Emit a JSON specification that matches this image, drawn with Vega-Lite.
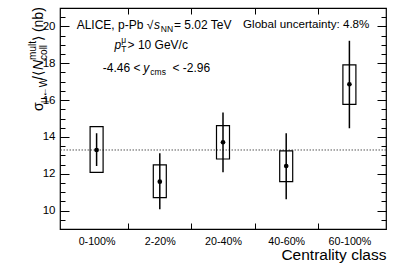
{
  "$schema": "https://vega.github.io/schema/vega-lite/v6.json",
  "width": 326,
  "height": 221,
  "autosize": "none",
  "padding": {"left": 60, "top": 8, "right": 13, "bottom": 42},
  "config": {
    "font": "Liberation Sans",
    "view": {"stroke": "black", "strokeWidth": 1.2},
    "axis": {"grid": false, "domain": false, "tickColor": "black", "labelColor": "black", "titleColor": "black", "tickWidth": 1, "labelFont": "Liberation Sans", "titleFont": "Liberation Sans", "titleFontWeight": "normal"}
  },
  "datasets": {
    "pts": [
      {"cls": "0-100%", "pos": 0.5, "val": 13.29, "stat_lo": 12.42, "stat_hi": 14.20, "sys_lo": 12.08, "sys_hi": 14.56},
      {"cls": "2-20%", "pos": 1.5, "val": 11.57, "stat_lo": 10.07, "stat_hi": 13.11, "sys_lo": 10.70, "sys_hi": 12.48},
      {"cls": "20-40%", "pos": 2.5, "val": 13.71, "stat_lo": 12.08, "stat_hi": 15.32, "sys_lo": 12.80, "sys_hi": 14.61},
      {"cls": "40-60%", "pos": 3.5, "val": 12.42, "stat_lo": 10.61, "stat_hi": 14.20, "sys_lo": 11.57, "sys_hi": 13.24},
      {"cls": "60-100%", "pos": 4.5, "val": 16.86, "stat_lo": 14.47, "stat_hi": 19.22, "sys_lo": 15.77, "sys_hi": 17.91}
    ],
    "mean": [{"avg": 13.29}],
    "txt_main": [
      {"tx": 0.184, "ty": 20.08, "t": "ALICE, p-Pb √"},
      {"tx": 1.725, "ty": 20.08, "t": "= 5.02 TeV"},
      {"tx": 0.99, "ty": 18.99, "t": "> 10 GeV/c"},
      {"tx": 0.598, "ty": 17.74, "t": "-4.46 <"},
      {"tx": 1.70, "ty": 17.74, "t": "< -2.96"}
    ],
    "txt_it": [
      {"tx": 1.41, "ty": 20.08, "t": "s"},
      {"tx": 0.782, "ty": 18.99, "t": "p"},
      {"tx": 1.239, "ty": 17.74, "t": "y"}
    ],
    "txt_sub": [
      {"tx": 1.515, "ty": 20.08, "t": "NN"},
      {"tx": 0.89, "ty": 18.99, "t": "T"},
      {"tx": 1.35, "ty": 17.74, "t": "cms"}
    ],
    "txt_sup": [
      {"tx": 0.89, "ty": 18.99, "t": "μ"}
    ],
    "txt_right": [
      {"tx": 4.816, "ty": 20.08, "t": "Global uncertainty: 4.8%"}
    ],
    "yt_main": [
      {"tx": -0.345, "ty": 15.41, "t": "σ"},
      {"tx": -0.345, "ty": 17.09, "t": "/⟨"},
      {"tx": -0.345, "ty": 19.21, "t": "⟩ (nb)"}
    ],
    "yt_it": [
      {"tx": -0.345, "ty": 17.63, "t": "N"}
    ],
    "yt_sub": [
      {"tx": -0.283, "ty": 15.84, "t": "μ←W"},
      {"tx": -0.283, "ty": 18.18, "t": "coll"}
    ],
    "yt_sup": [
      {"tx": -0.452, "ty": 18.18, "t": "mult"}
    ]
  },
  "resolve": {"axis": {"x": "independent", "y": "independent"}},
  "layer": [
    {
      "data": {"name": "mean"},
      "mark": {"type": "rule", "stroke": "#555555", "strokeWidth": 1, "strokeDash": [1.5, 1.5]},
      "encoding": {
        "y": {"field": "avg", "type": "quantitative", "scale": {"domain": [9, 21], "nice": false, "zero": false},
          "axis": {"orient": "left", "values": [10, 12, 14, 16, 18, 20], "tickSize": -9, "labelPadding": 14, "labelFontSize": 11.5, "title": null}}
      }
    },
    {
      "data": {"name": "pts"},
      "mark": {"type": "bar", "size": 13, "fillOpacity": 0, "stroke": "black", "strokeWidth": 1.2},
      "encoding": {
        "x": {"field": "pos", "type": "quantitative", "scale": {"domain": [0, 5], "nice": false, "zero": false},
          "axis": {"orient": "bottom", "values": [0.5, 1.5, 2.5, 3.5, 4.5], "ticks": false, "labelPadding": 7, "labelFontSize": 10.7,
            "labelExpr": "['0-100%','2-20%','20-40%','40-60%','60-100%'][floor(datum.value)]",
            "title": "Centrality class", "titleAnchor": "end", "titleAlign": "right", "titleFontSize": 15.5, "titlePadding": 2}},
        "y": {"field": "sys_lo", "type": "quantitative", "scale": {"domain": [9, 21], "nice": false, "zero": false},
          "axis": {"orient": "left", "values": [9, 9.5, 10, 10.5, 11, 11.5, 12, 12.5, 13, 13.5, 14, 14.5, 15, 15.5, 16, 16.5, 17, 17.5, 18, 18.5, 19, 19.5, 20, 20.5, 21], "tickSize": -5, "labels": false, "title": null}},
        "y2": {"field": "sys_hi"}
      }
    },
    {
      "data": {"name": "pts"},
      "mark": {"type": "rule", "stroke": "black", "strokeWidth": 1.5},
      "encoding": {
        "x": {"field": "pos", "type": "quantitative", "scale": {"domain": [0, 5], "nice": false, "zero": false},
          "axis": {"orient": "bottom", "values": [1, 2, 3, 4], "tickSize": -6, "labels": false, "title": null}},
        "y": {"field": "stat_lo", "type": "quantitative", "scale": {"domain": [9, 21], "nice": false, "zero": false},
          "axis": {"orient": "right", "values": [10, 12, 14, 16, 18, 20], "tickSize": -9, "labels": false, "title": null}},
        "y2": {"field": "stat_hi"}
      }
    },
    {
      "data": {"name": "pts"},
      "mark": {"type": "circle", "size": 22, "color": "black", "opacity": 1},
      "encoding": {
        "x": {"field": "pos", "type": "quantitative", "scale": {"domain": [0, 5], "nice": false, "zero": false},
          "axis": {"orient": "top", "values": [1, 2, 3, 4], "tickSize": -6, "labels": false, "title": null}},
        "y": {"field": "val", "type": "quantitative", "scale": {"domain": [9, 21], "nice": false, "zero": false},
          "axis": {"orient": "right", "values": [9, 9.5, 10, 10.5, 11, 11.5, 12, 12.5, 13, 13.5, 14, 14.5, 15, 15.5, 16, 16.5, 17, 17.5, 18, 18.5, 19, 19.5, 20, 20.5, 21], "tickSize": -5, "labels": false, "title": null}}
      }
    },
    {
      "data": {"name": "txt_main"},
      "mark": {"type": "text", "align": "left", "baseline": "middle", "fontSize": 12, "color": "black"},
      "encoding": {
        "x": {"field": "tx", "type": "quantitative", "axis": null},
        "y": {"field": "ty", "type": "quantitative", "axis": null},
        "text": {"field": "t"}
      }
    },
    {
      "data": {"name": "txt_it"},
      "mark": {"type": "text", "align": "left", "baseline": "middle", "fontSize": 12, "fontStyle": "italic", "color": "black"},
      "encoding": {
        "x": {"field": "tx", "type": "quantitative", "axis": null},
        "y": {"field": "ty", "type": "quantitative", "axis": null},
        "text": {"field": "t"}
      }
    },
    {
      "data": {"name": "txt_sub"},
      "mark": {"type": "text", "align": "left", "baseline": "middle", "fontSize": 8.5, "dy": 4, "color": "black"},
      "encoding": {
        "x": {"field": "tx", "type": "quantitative", "axis": null},
        "y": {"field": "ty", "type": "quantitative", "axis": null},
        "text": {"field": "t"}
      }
    },
    {
      "data": {"name": "txt_sup"},
      "mark": {"type": "text", "align": "left", "baseline": "middle", "fontSize": 8.5, "dy": -5, "color": "black"},
      "encoding": {
        "x": {"field": "tx", "type": "quantitative", "axis": null},
        "y": {"field": "ty", "type": "quantitative", "axis": null},
        "text": {"field": "t"}
      }
    },
    {
      "data": {"name": "txt_right"},
      "mark": {"type": "text", "align": "right", "baseline": "middle", "fontSize": 11.6, "color": "black"},
      "encoding": {
        "x": {"field": "tx", "type": "quantitative", "axis": null},
        "y": {"field": "ty", "type": "quantitative", "axis": null},
        "text": {"field": "t"}
      }
    },
    {
      "data": {"name": "yt_main"},
      "mark": {"type": "text", "align": "left", "baseline": "alphabetic", "angle": 270, "fontSize": 14, "color": "black"},
      "encoding": {
        "x": {"field": "tx", "type": "quantitative", "axis": null},
        "y": {"field": "ty", "type": "quantitative", "axis": null},
        "text": {"field": "t"}
      }
    },
    {
      "data": {"name": "yt_it"},
      "mark": {"type": "text", "align": "left", "baseline": "alphabetic", "angle": 270, "fontSize": 14, "fontStyle": "italic", "color": "black"},
      "encoding": {
        "x": {"field": "tx", "type": "quantitative", "axis": null},
        "y": {"field": "ty", "type": "quantitative", "axis": null},
        "text": {"field": "t"}
      }
    },
    {
      "data": {"name": "yt_sub"},
      "mark": {"type": "text", "align": "left", "baseline": "alphabetic", "angle": 270, "fontSize": 10, "color": "black"},
      "encoding": {
        "x": {"field": "tx", "type": "quantitative", "axis": null},
        "y": {"field": "ty", "type": "quantitative", "axis": null},
        "text": {"field": "t"}
      }
    },
    {
      "data": {"name": "yt_sup"},
      "mark": {"type": "text", "align": "left", "baseline": "alphabetic", "angle": 270, "fontSize": 10, "color": "black"},
      "encoding": {
        "x": {"field": "tx", "type": "quantitative", "axis": null},
        "y": {"field": "ty", "type": "quantitative", "axis": null},
        "text": {"field": "t"}
      }
    }
  ]
}
